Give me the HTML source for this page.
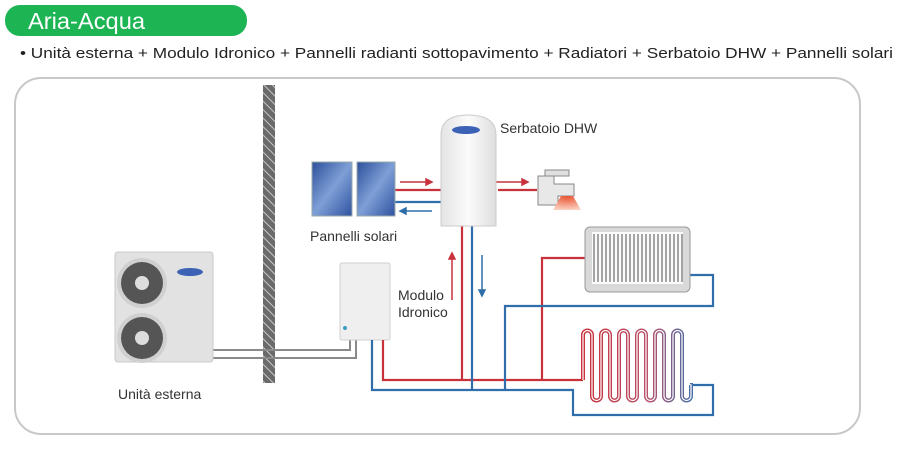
<!DOCTYPE html>
<html><head><meta charset="utf-8"><style>
html,body{margin:0;padding:0;background:#fff;width:900px;height:455px;overflow:hidden}
svg{display:block}
text{font-family:"Liberation Sans",sans-serif}
</style></head><body>
<svg width="900" height="455" viewBox="0 0 900 455" xmlns="http://www.w3.org/2000/svg">
<defs>
<pattern id="hatch" width="6" height="6" patternUnits="userSpaceOnUse" patternTransform="rotate(-45)">
<rect width="6" height="6" fill="#6a6a6a"/><line x1="0" y1="0" x2="0" y2="6" stroke="#c8c8c8" stroke-width="2"/>
</pattern>
<linearGradient id="coil" x1="0" x2="1" y1="0" y2="0"><stop offset="0" stop-color="#c8323a"/><stop offset="0.6" stop-color="#b8506a"/><stop offset="1" stop-color="#4a6fa8"/></linearGradient>
<linearGradient id="panel" x1="0" y1="0" x2="1" y2="1"><stop offset="0" stop-color="#2c4f9a"/><stop offset="0.5" stop-color="#7e9fd6"/><stop offset="1" stop-color="#2f52a0"/></linearGradient>
<linearGradient id="tank" x1="0" x2="1"><stop offset="0" stop-color="#e4e4e4"/><stop offset="0.5" stop-color="#fbfbfb"/><stop offset="1" stop-color="#dedede"/></linearGradient>
<radialGradient id="spray" cx="0.5" cy="0" r="1"><stop offset="0" stop-color="#e8502e"/><stop offset="1" stop-color="#fbd0c0"/></radialGradient>
</defs>
<rect x="5" y="5" width="242" height="31" rx="15" fill="#1db554"/>
<text x="28" y="29" font-size="23" fill="#fff" textLength="117" lengthAdjust="spacingAndGlyphs">Aria-Acqua</text>
<text x="20" y="58" font-size="15" fill="#222" textLength="873" lengthAdjust="spacingAndGlyphs">• Unità esterna + Modulo Idronico + Pannelli radianti sottopavimento + Radiatori + Serbatoio DHW + Pannelli solari</text>
<rect x="15" y="78" width="845" height="356" rx="26" fill="none" stroke="#c8c8c8" stroke-width="2"/>
<rect x="263" y="85" width="12" height="298" fill="url(#hatch)"/>
<path d="M213,350 H350 V332" fill="none" stroke="#8a8a8a" stroke-width="2"/>
<path d="M213,358 H356 V334" fill="none" stroke="#8a8a8a" stroke-width="2"/>
<rect x="115" y="252" width="98" height="110" rx="3" fill="#e2e2e2" stroke="#c8c8c8"/>
<circle cx="142" cy="283" r="25" fill="#d0d0d0"/><circle cx="142" cy="283" r="21" fill="#555"/><circle cx="142" cy="283" r="7" fill="#ddd"/>
<circle cx="142" cy="338" r="25" fill="#d0d0d0"/><circle cx="142" cy="338" r="21" fill="#555"/><circle cx="142" cy="338" r="7" fill="#ddd"/>
<ellipse cx="190" cy="272" rx="13" ry="4" fill="#3c62b6"/>
<text x="118" y="399" font-size="14" fill="#333">Unità esterna</text>
<rect x="340" y="263" width="50" height="77" rx="2" fill="#efefef" stroke="#cfcfcf"/>
<circle cx="345" cy="328" r="2" fill="#3aa0c0"/>
<text x="398" y="300" font-size="14" fill="#333">Modulo</text>
<text x="398" y="317" font-size="14" fill="#333">Idronico</text>
<g fill="none" stroke-width="2.2">
<path d="M383,340 V380 H583" stroke="#c8323a"/>
<path d="M462,226 V380" stroke="#c8323a"/>
<path d="M542,380 V258 H585" stroke="#c8323a"/>
<path d="M372,340 V390 H573 V415 H713 V385 H690" stroke="#2f6ea8"/>
<path d="M472,226 V390" stroke="#2f6ea8"/>
<path d="M505,390 V306 H713 V275 H690" stroke="#2f6ea8"/>
<path d="M395,190 H441 M498,190 H537" stroke="#c8323a"/>
<path d="M395,202 H441" stroke="#2f6ea8"/>
</g>
<g stroke-width="1.5" fill="none">
<path d="M400,182 H428" stroke="#c8323a"/><path d="M432,182 l-6,-3 v6z" fill="#c8323a" stroke="#c8323a"/>
<path d="M405,211 H432" stroke="#2f6ea8"/><path d="M400,211 l6,-3 v6z" fill="#2f6ea8" stroke="#2f6ea8"/>
<path d="M496,182 H523" stroke="#c8323a"/><path d="M528,182 l-6,-3 v6z" fill="#c8323a" stroke="#c8323a"/>
<path d="M452,300 V258" stroke="#c8323a"/><path d="M452,253 l-3,6 h6z" fill="#c8323a" stroke="#c8323a"/>
<path d="M482,255 V290" stroke="#2f6ea8"/><path d="M482,296 l-3,-6 h6z" fill="#2f6ea8" stroke="#2f6ea8"/>
</g>
<path d="M583,380 V335 a4.5,4.5 0 0 1 9,0 V396 a4.5,4.5 0 0 0 9,0 V335 a4.5,4.5 0 0 1 9,0 V396 a4.5,4.5 0 0 0 9,0 V335 a4.5,4.5 0 0 1 9,0 V396 a4.5,4.5 0 0 0 9,0 V335 a4.5,4.5 0 0 1 9,0 V396 a4.5,4.5 0 0 0 9,0 V335 a4.5,4.5 0 0 1 9,0 V396 a4.5,4.5 0 0 0 9,0 V335 a4.5,4.5 0 0 1 9,0 V396 a4.5,4.5 0 0 0 9,0 V385 H690" fill="none" stroke="url(#coil)" stroke-width="4"/>
<path d="M583,380 V335 a4.5,4.5 0 0 1 9,0 V396 a4.5,4.5 0 0 0 9,0 V335 a4.5,4.5 0 0 1 9,0 V396 a4.5,4.5 0 0 0 9,0 V335 a4.5,4.5 0 0 1 9,0 V396 a4.5,4.5 0 0 0 9,0 V335 a4.5,4.5 0 0 1 9,0 V396 a4.5,4.5 0 0 0 9,0 V335 a4.5,4.5 0 0 1 9,0 V396 a4.5,4.5 0 0 0 9,0 V335 a4.5,4.5 0 0 1 9,0 V396 a4.5,4.5 0 0 0 9,0 V385 H690" fill="none" stroke="#fff" stroke-width="1.2"/>
<rect x="585" y="227" width="105" height="65" rx="5" fill="#d9d9d9" stroke="#999"/>
<rect x="592" y="232" width="91" height="52" fill="#fafafa"/>
<g stroke="#777" stroke-width="1.3">
<path d="M594,234v48M598,234v48M602,234v48M606,234v48M610,234v48M614,234v48M618,234v48M622,234v48M626,234v48M630,234v48M634,234v48M638,234v48M642,234v48M646,234v48M650,234v48M654,234v48M658,234v48M662,234v48M666,234v48M670,234v48M674,234v48M678,234v48M682,234v48"/>
</g>
<rect x="312" y="162" width="40" height="54" fill="url(#panel)" stroke="#9aa"/>
<rect x="357" y="162" width="38" height="54" fill="url(#panel)" stroke="#9aa"/>
<text x="310" y="241" font-size="14" fill="#333">Pannelli solari</text>
<path d="M441,226 V135 Q441,115 468,115 Q496,115 496,135 V226 Z" fill="url(#tank)" stroke="#ccc"/>
<ellipse cx="466" cy="130" rx="14" ry="4" fill="#3c62b6"/>
<text x="500" y="133" font-size="14" fill="#333">Serbatoio DHW</text>
<path d="M545,170 h24 v6 h-24z" fill="#e0e0e0" stroke="#888"/>
<path d="M538,176 h16 v8 h20 v12 h-16 v9 h-20z" fill="#e8e8e8" stroke="#888"/>
<path d="M561,196 h12 l8,14 h-28z" fill="url(#spray)"/>
</svg>
</body></html>
